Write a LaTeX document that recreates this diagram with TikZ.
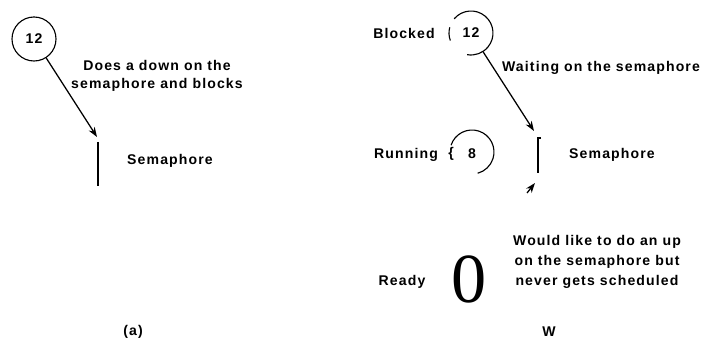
\documentclass[tikz,border=0pt]{standalone}
\usepackage{fontspec}
\setmainfont{Liberation Sans}[LetterSpace=8]
\newfontfamily\zerofont{Liberation Serif}
\usetikzlibrary{arrows.meta,positioning}

\begin{document}
\begin{tikzpicture}[x=0.025cm, y=0.025cm,
  lbl/.style={font=\bfseries\fontsize{10}{12.8}\selectfont, align=center, inner sep=0pt},
  proc/.style={circle, minimum size=1.1cm, inner sep=0pt, font=\bfseries\fontsize{10}{11}\selectfont},
  ring/.style={line width=0.8pt},
  link/.style={-{Stealth[length=7pt,width=5pt]}, line width=0.9pt},
  bar/.style={line width=1.1pt}
]
\useasboundingbox (0,0) rectangle (706,341);

\node[proc, draw, ring] (pa) at (34,302) {12};
\coordinate (semAtop) at (98,199);
\coordinate (semAbot) at (98,155);
\coordinate (tipA) at (97,204);
\draw[link] (pa) -- (tipA);
\draw[bar] (semAtop) -- (semAbot);
\node[lbl] (downA) at (157,265) {Does a down on the\\semaphore and blocks};
\node[lbl] (semA) at (170,180) {Semaphore};
\node[lbl] (capA) at (133,9) {(a)};

\node[lbl] (blocked) at (404,308) {Blocked};
\node[proc] (pb) at (471,308) {12};
\draw[ring] (pb.center) ++(140:22) arc[start angle=140, end angle=-100, radius=22];
\draw[ring] (pb.center) ++(165:22) arc[start angle=165, end angle=200, radius=22];
\coordinate (tipB) at (534,210);
\draw[link] (pb) -- (tipB);
\node[lbl] (waiting) at (601,273) {Waiting on the semaphore};

\node[lbl] (running) at (406,186) {Running};
\node[lbl] (brace) at (451,187) {\{};
\node[proc] (pr) at (472,189) {};
\node[lbl] (eight) at (472,187) {8};
\draw[ring] (pr.center) ++(162:22) arc[start angle=162, end angle=-75, radius=22];

\coordinate (semBtick) at (541,203);
\coordinate (semBtop) at (538,203);
\coordinate (semBbot) at (538,168);
\draw[bar] (semBtick) -- (semBtop) -- (semBbot);
\coordinate (upTail) at (527,148);
\coordinate (upTip) at (535,158);
\draw[link] (upTail) -- (upTip);
\node[lbl] (semB) at (612,186) {Semaphore};

\node[lbl] (ready) at (402,59) {Ready};
\node[inner sep=0pt, font=\zerofont\fontsize{50}{50}\selectfont] (zero) at (469,62) {0};
\node[lbl, font=\bfseries\fontsize{10}{14.2}\selectfont] (wouldup) at (597,79) {Would like to do an up\\on the semaphore but\\never gets scheduled};
\node[lbl] (capB) at (549,9) {W};
\end{tikzpicture}
\end{document}
